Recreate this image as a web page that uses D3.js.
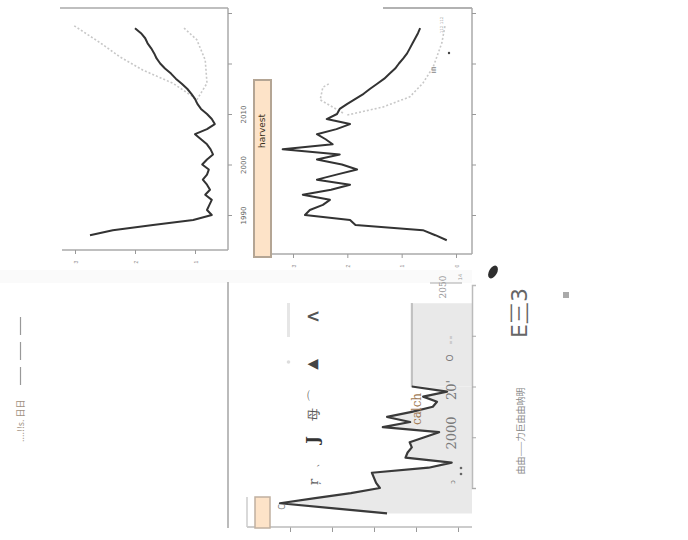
<!DOCTYPE html>
<html><head><meta charset="utf-8">
<script src="https://cdn.jsdelivr.net/npm/d3@7"></script>
<style>body{margin:0;background:#fff}svg{display:block}</style>
</head><body>
<svg id="c" width="688" height="540"></svg>
<script>
// ---------- data ----------
const ssbYears  = [1986,1987,1988,1989,1990,1991,1992,1993,1994,1995,1996,1997,1998,1999,2000,2001,2002,2003,2004,2005,2006,2007,2008,2009,2010,2011,2012,2013,2014,2015,2016,2017,2018,2019,2020,2021,2022,2023,2024,2025,2026,2027];
const ssbValues = [2.75,2.37,1.70,1.03,0.72,0.80,0.76,0.72,0.83,0.75,0.80,0.87,0.80,0.77,0.88,0.80,0.70,0.74,0.80,0.90,1.00,0.80,0.67,0.72,0.80,0.90,0.96,1.00,1.06,1.13,1.22,1.32,1.40,1.50,1.58,1.64,1.68,1.73,1.79,1.83,1.90,2.00];
const ssbHighYears  = [2012.2,2013.4,2016.1,2018.7,2021.3,2024.1,2027.6];
const ssbHighValues = [0.97,1.03,1.37,1.87,2.25,2.58,3.03];
const ssbLowYears   = [2012.8,2016.1,2020.7,2024.7,2027.2];
const ssbLowValues  = [0.97,0.80,0.83,0.97,1.20];

const harvestYears  = [1985,1986,1987,1988,1989,1990,1991,1992,1993,1994,1995,1996,1997,1998,1999,2000,2001,2002,2003,2004,2005,2006,2007,2008,2009,2010,2011,2012,2013,2014,2015,2016,2017,2018,2019,2020,2021,2022,2023,2024,2025,2026,2027];
const harvestValues = [0.17,0.38,0.61,1.85,1.95,2.78,2.69,2.45,2.32,2.82,2.30,1.95,2.56,2.20,1.82,2.10,2.56,2.14,3.19,2.27,2.40,2.56,2.20,1.95,2.38,2.19,2.14,2.00,1.85,1.70,1.58,1.45,1.32,1.22,1.12,1.05,0.97,0.90,0.85,0.80,0.75,0.70,0.66];
const harvestAYears  = [2010.2,2012.8,2015.3,2016.1];
const harvestAValues = [2.08,2.50,2.45,2.32];
const harvestBYears  = [2009.8,2011.4,2013.4,2016.1,2019.3,2024.1,2027.6];
const harvestBValues = [2.00,1.34,0.85,0.61,0.42,0.26,0.20];

const catchYears  = [1985,1986,1987,1988,1989,1990,1991,1992,1993,1994,1995,1996,1997,1998,1999,2000,2001,2002,2003,2004,2005,2006,2007,2008,2009,2010];
const catchValues = [1.69,2.95,4.24,3.40,2.55,1.86,1.95,2.00,2.05,0.70,0.15,1.25,1.20,1.10,1.15,0.80,0.45,1.79,1.14,1.69,1.10,0.60,0.50,0.83,0.26,1.10];
const flatYears  = [2010,2026.4];
const flatValues = [1.10,1.10];

const yearTicks = [1990,2000,2010,2020,2030];
const yearLabels = ["1990","2000","2010","",""];
const ssbTicks = [1,2,3];
const harvestTicks = [0,1,2,3];
const catchTicks = [0,1,2,3,4];

// ---------- drawing ----------
const svg = d3.select("#c");
const zip = (xs, ys) => xs.map((x,i)=>({year:x, v:ys[i]}));
const rot = (x,y) => `translate(${x},${y}) rotate(-90)`;

function rotText(x,y,str,opt){
  const t = svg.append("text").attr("transform",opt.norot?`translate(${x},${y})`:rot(x,y)).attr("text-anchor",opt.anchor||"middle")
    .attr("font-family",opt.family||"DejaVu Sans, sans-serif").attr("font-size",opt.size||8)
    .attr("fill",opt.fill||"#555").text(str);
  if(opt.weight) t.attr("font-weight",opt.weight);
  return t;
}

// faint band
svg.append("rect").attr("x",0).attr("y",270).attr("width",472).attr("height",13).attr("fill","#fafafa");

// ===== Panel 1 (SSB) =====
const y1 = d3.scaleLinear([1990,2030],[215,13]);
const x1 = d3.scaleLinear([1,3],[195,75]);
const g1 = svg.append("g");
g1.append("line").attr("x1",60).attr("x2",228).attr("y1",8).attr("y2",8).attr("stroke","#aaa").attr("stroke-width",1.5);
g1.append("line").attr("x1",228).attr("x2",228).attr("y1",8).attr("y2",250).attr("stroke","#aaa").attr("stroke-width",1.5);
g1.append("line").attr("x1",62).attr("x2",228).attr("y1",250).attr("y2",250).attr("stroke","#aaa").attr("stroke-width",1.5);

const line1 = d3.line().x(d=>x1(d.v)).y(d=>y1(d.year));
g1.append("path").datum(zip(ssbHighYears,ssbHighValues)).attr("d",line1).attr("fill","none").attr("stroke","#c8c8c8").attr("stroke-width",1.6).attr("stroke-dasharray","2,2");
g1.append("path").datum(zip(ssbLowYears,ssbLowValues)).attr("d",line1).attr("fill","none").attr("stroke","#c8c8c8").attr("stroke-width",1.6).attr("stroke-dasharray","2,2");
g1.append("path").datum(zip(ssbYears,ssbValues)).attr("d",line1).attr("fill","none").attr("stroke","#333").attr("stroke-width",2).attr("stroke-linejoin","round");

const ay1 = svg.append("g").attr("transform","translate(228,0)")
  .call(d3.axisRight(y1).tickValues(yearTicks).tickSize(4).tickFormat((d,i)=>yearLabels[i]));
ay1.select(".domain").remove();
ay1.selectAll("line").attr("stroke","#999");
ay1.selectAll("text").attr("x",0).attr("dy",0).attr("text-anchor","middle").attr("transform","translate(18,0) rotate(-90)")
  .attr("font-size",7).attr("fill","#666").attr("font-family","DejaVu Sans, sans-serif");

const ax1 = svg.append("g").attr("transform","translate(0,250)")
  .call(d3.axisBottom(x1).tickValues(ssbTicks).tickSize(4).tickFormat(d=>d));
ax1.select(".domain").remove();
ax1.selectAll("line").attr("stroke","#999");
ax1.selectAll("text").attr("y",0).attr("dy",0).attr("text-anchor","middle").attr("transform","translate(2,12) rotate(-90)")
  .attr("font-size",5).attr("fill","#888");

// ===== Panel 2 (harvest) =====
const y2 = d3.scaleLinear([1990,2030],[215,13]);
const x2 = d3.scaleLinear([0,3],[456,293]);
const g2 = svg.append("g");
g2.append("line").attr("x1",383).attr("x2",472).attr("y1",8).attr("y2",8).attr("stroke","#999").attr("stroke-width",1.5);
g2.append("line").attr("x1",472).attr("x2",472).attr("y1",8).attr("y2",254).attr("stroke","#aaa").attr("stroke-width",1.5);
g2.append("line").attr("x1",270).attr("x2",472).attr("y1",254).attr("y2",254).attr("stroke","#aaa").attr("stroke-width",1.5);
g2.append("rect").attr("x",254).attr("y",80).attr("width",17).attr("height",177).attr("fill","#fde3c8").attr("stroke","#b4a594").attr("stroke-width",2);
rotText(265,131,"harvest",{size:9,fill:"#3a3020"});

const line2 = d3.line().x(d=>x2(d.v)).y(d=>y2(d.year));
g2.append("path").datum(zip(harvestAYears,harvestAValues)).attr("d",line2).attr("fill","none").attr("stroke","#c8c8c8").attr("stroke-width",1.6).attr("stroke-dasharray","2,2");
g2.append("path").datum(zip(harvestBYears,harvestBValues)).attr("d",line2).attr("fill","none").attr("stroke","#c8c8c8").attr("stroke-width",1.6).attr("stroke-dasharray","2,2");
g2.append("path").datum(zip(harvestYears,harvestValues)).attr("d",line2).attr("fill","none").attr("stroke","#333").attr("stroke-width",2).attr("stroke-linejoin","round");

const ay2 = svg.append("g").attr("transform","translate(472,0)")
  .call(d3.axisRight(y2).tickValues(yearTicks).tickSize(4).tickFormat(""));
ay2.select(".domain").remove();
ay2.selectAll("line").attr("stroke","#999");
const ax2 = svg.append("g").attr("transform","translate(0,254)")
  .call(d3.axisBottom(x2).tickValues(harvestTicks).tickSize(4).tickFormat(d=>d));
ax2.select(".domain").remove();
ax2.selectAll("line").attr("stroke","#999");
ax2.selectAll("text").attr("y",0).attr("dy",0).attr("text-anchor","middle").attr("transform","translate(2,12) rotate(-90)")
  .attr("font-size",5).attr("fill","#888");
rotText(436,70,"IIII",{size:6,fill:"#666"});
rotText(443,25,"112 112",{size:4,fill:"#999"});
svg.append("circle").attr("cx",449).attr("cy",53).attr("r",1.2).attr("fill","#444");

// ===== Bottom panel =====
const y3 = d3.scaleLinear([1990,2030],[488,285]);
const x3 = d3.scaleLinear([0,4],[458,290]);
const area3 = d3.area().y(d=>y3(d.year)).x0(472).x1(d=>x3(d.v));
const line3 = d3.line().x(d=>x3(d.v)).y(d=>y3(d.year));
svg.append("path").datum(zip(catchYears,catchValues)).attr("d",area3).attr("fill","#e9e9e9");
svg.append("path").datum(zip(flatYears,flatValues)).attr("d",area3).attr("fill","#e9e9e9");
svg.append("path").datum(zip(flatYears,flatValues)).attr("d",line3).attr("fill","none").attr("stroke","#888").attr("stroke-width",2).attr("stroke-dasharray","1,1");
svg.append("path").datum(zip(catchYears,catchValues)).attr("d",line3).attr("fill","none").attr("stroke","#3a3a3a").attr("stroke-width",2.2).attr("stroke-linejoin","round");

const ay3 = svg.append("g").attr("transform","translate(472,0)")
  .call(d3.axisRight(y3).tickValues([1990,2000,2010,2020]).tickSize(4).tickFormat(""));
ay3.select(".domain").attr("stroke","#bbb").attr("stroke-width",1.5);
ay3.selectAll("line").attr("stroke","#aaa");
const ax3 = svg.append("g").attr("transform","translate(0,527)")
  .call(d3.axisBottom(x3).tickValues(catchTicks).tickSize(5).tickFormat(""));
ax3.select(".domain").remove();
ax3.selectAll("line").attr("stroke","#999");
svg.append("line").attr("x1",247).attr("x2",472).attr("y1",527).attr("y2",527).attr("stroke","#bbb").attr("stroke-width",1.5);
svg.append("line").attr("x1",247).attr("x2",247).attr("y1",497).attr("y2",527).attr("stroke","#ccc").attr("stroke-width",1.5);
svg.append("rect").attr("x",255).attr("y",497).attr("width",15).attr("height",31).attr("fill","#fde3c8").attr("stroke","#c0b0a0").attr("stroke-width",1.5);
rotText(285,507,"C",{size:8,fill:"#777"});

// vertical grey rule
svg.append("line").attr("x1",228).attr("x2",228).attr("y1",282).attr("y2",528).attr("stroke","#bbb").attr("stroke-width",2);

// garbled glyph texts
const serif = "DejaVu Serif, Liberation Serif, serif";
rotText(318,482,"ŗ",{size:13,family:serif,fill:"#666"});
rotText(318,462,"、",{size:11,family:serif,fill:"#666"});
rotText(318,440,"J",{size:16,family:serif,fill:"#333",weight:"bold"});
rotText(318,414,"母",{size:13,fill:"#555"});
rotText(318,395,"⌒",{size:13,fill:"#555"});
rotText(313,368,"◀",{size:14,fill:"#444",norot:true});
rotText(313,322,"<",{size:17,fill:"#555",weight:"bold",norot:true});
svg.append("rect").attr("x",287).attr("y",303).attr("width",3).attr("height",34).attr("fill","#e6e6e6");
svg.append("circle").attr("cx",288.5).attr("cy",362).attr("r",1.8).attr("fill","#ddd");
rotText(421,409,"calch",{size:12,family:serif,fill:"#a07a55"});
rotText(456,433,"2000",{size:13,family:serif,fill:"#7a7a7a"});
rotText(456,390,"20'",{size:13,family:serif,fill:"#7a7a7a"});
rotText(453,358,"O",{size:9,fill:"#777"});
rotText(452,340,"ııı ııı",{size:4,fill:"#999"});
rotText(446,287,"2050",{size:9,family:serif,fill:"#999"});
svg.append("line").attr("x1",430).attr("x2",462).attr("y1",283).attr("y2",283).attr("stroke","#aaa");
rotText(462,277,"14",{size:5,fill:"#999"});
svg.append("circle").attr("cx",461).attr("cy",468).attr("r",1.3).attr("fill","#666");
svg.append("circle").attr("cx",461).attr("cy",474).attr("r",1.3).attr("fill","#666");
rotText(455,482,"ɔ",{size:7,fill:"#777"});

// right side
svg.append("ellipse").attr("cx",493).attr("cy",272).attr("rx",4).attr("ry",7).attr("transform","rotate(30,493,272)").attr("fill","#2e2e2e");
rotText(527,313,"E三3",{size:22,fill:"#666"});
svg.append("rect").attr("x",563).attr("y",292).attr("width",6).attr("height",6).attr("fill","#aaa");
rotText(524,431,"由由——力巨由由呐明",{size:9,family:"Noto Sans CJK SC, sans-serif",fill:"#888"});

// left text with long dashes
rotText(24,442,"....!!s. 日日",{size:9,family:"Noto Sans CJK SC, sans-serif",fill:"#a09080",anchor:"start"});
[[317,335],[342,360],[367,385]].forEach(([a,b])=>svg.append("line").attr("x1",20.5).attr("x2",20.5).attr("y1",a).attr("y2",b).attr("stroke","#999").attr("stroke-width",1.2));
</script>
</body></html>
